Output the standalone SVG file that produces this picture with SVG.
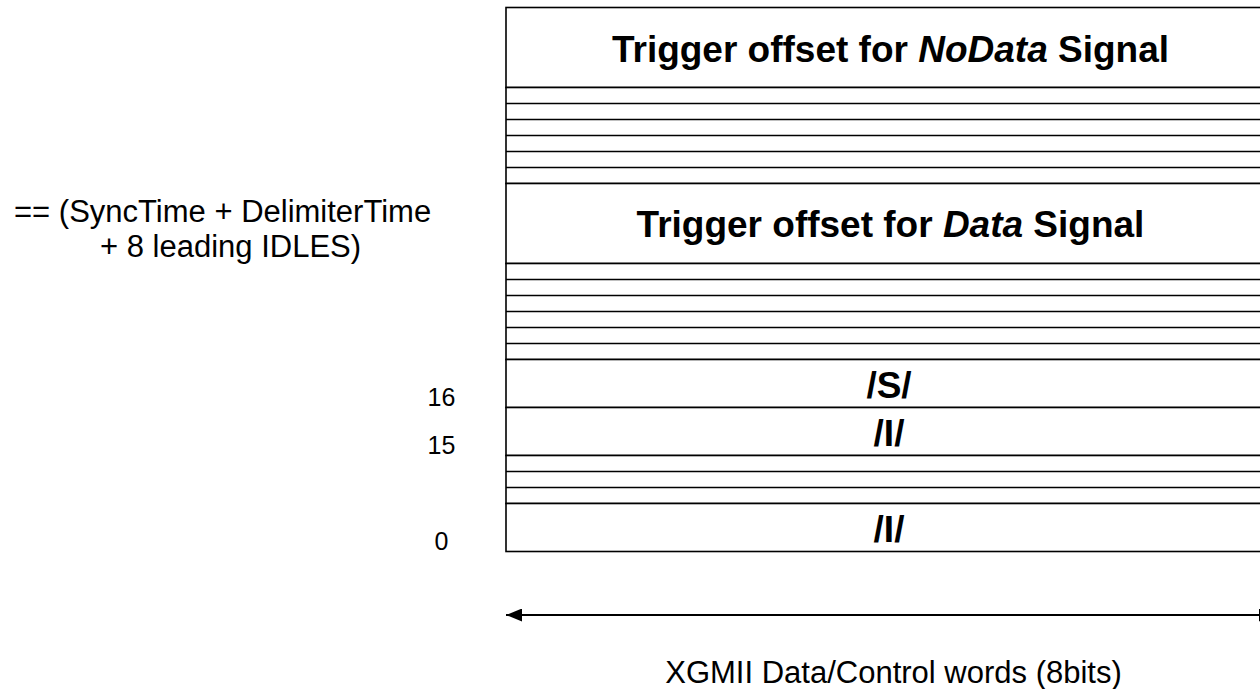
<svg xmlns="http://www.w3.org/2000/svg" width="1260" height="689" viewBox="0 0 1260 689">
  <style>
    .cell { fill: #ffffff; stroke: #000000; stroke-width: 1.6; }
    .row { stroke: #000000; stroke-width: 1.6; fill: none; }
    .field { font-family: "Liberation Sans", Arial, sans-serif; font-weight: bold; font-size: 37px; text-anchor: middle; fill: #000000; }
    .note { font-family: "Liberation Sans", Arial, sans-serif; font-size: 31px; fill: #000000; }
    .idx { font-family: "Liberation Sans", Arial, sans-serif; font-size: 25px; text-anchor: middle; fill: #000000; }
    .axis { font-family: "Liberation Sans", Arial, sans-serif; font-size: 31px; text-anchor: middle; fill: #000000; }
    .arrow { stroke: #000000; stroke-width: 2; fill: none; }
  </style>
  <defs>
    <marker id="head" viewBox="0 0 16 13" refX="16" refY="6.5" markerWidth="16" markerHeight="13" markerUnits="userSpaceOnUse" orient="auto-start-reverse">
      <path d="M0,0 L16,6.5 L0,13 Z" fill="#000000"/>
    </marker>
  </defs>

  <rect width="1260" height="689" fill="#ffffff"/>

  <!-- word stack: 34 rows of 16px, box runs past the right edge -->
  <g id="noDataOffset">
    <rect class="cell" x="506" y="7.5" width="769" height="80"/>
    <text class="field" x="890.5" y="61.5">Trigger offset for <tspan font-style="italic">NoData</tspan> Signal</text>
  </g>
  <g id="gapA">
    <rect class="cell" x="506" y="87.5" width="769" height="96"/>
    <path class="row" d="M506,103.5H1275M506,119.5H1275M506,135.5H1275M506,151.5H1275M506,167.5H1275"/>
  </g>
  <g id="dataOffset">
    <rect class="cell" x="506" y="183.5" width="769" height="80"/>
    <text class="field" x="890.5" y="237">Trigger offset for <tspan font-style="italic">Data</tspan> Signal</text>
  </g>
  <g id="gapB">
    <rect class="cell" x="506" y="263.5" width="769" height="96"/>
    <path class="row" d="M506,279.5H1275M506,295.5H1275M506,311.5H1275M506,327.5H1275M506,343.5H1275"/>
  </g>
  <g id="startS">
    <rect class="cell" x="506" y="359.5" width="769" height="48"/>
    <text class="field" x="889" y="398">/S/</text>
  </g>
  <g id="idle15">
    <rect class="cell" x="506" y="407.5" width="769" height="48"/>
    <text class="field" x="889" y="445.5">/I/</text>
  </g>
  <g id="gapC">
    <rect class="cell" x="506" y="455.5" width="769" height="48"/>
    <path class="row" d="M506,471.5H1275M506,487.5H1275"/>
  </g>
  <g id="idle0">
    <rect class="cell" x="506" y="503.5" width="769" height="48"/>
    <text class="field" x="889" y="541.5">/I/</text>
  </g>

  <!-- row indices -->
  <g id="indices">
    <text class="idx" x="441.5" y="406">16</text>
    <text class="idx" x="441.5" y="454">15</text>
    <text class="idx" x="441.5" y="550">0</text>
  </g>

  <!-- offset definition -->
  <g id="offsetNote">
    <text class="note" x="14" y="222">== (SyncTime + DelimiterTime</text>
    <text class="note" x="100" y="257">+ 8 leading IDLES)</text>
  </g>

  <!-- width dimension -->
  <g id="connectors">
    <line class="arrow" x1="506" y1="615" x2="1275" y2="615" marker-start="url(#head)" marker-end="url(#head)"/>
  </g>
  <g id="axisLabel">
    <text class="axis" x="893.5" y="683">XGMII Data/Control words (8bits)</text>
  </g>
</svg>
